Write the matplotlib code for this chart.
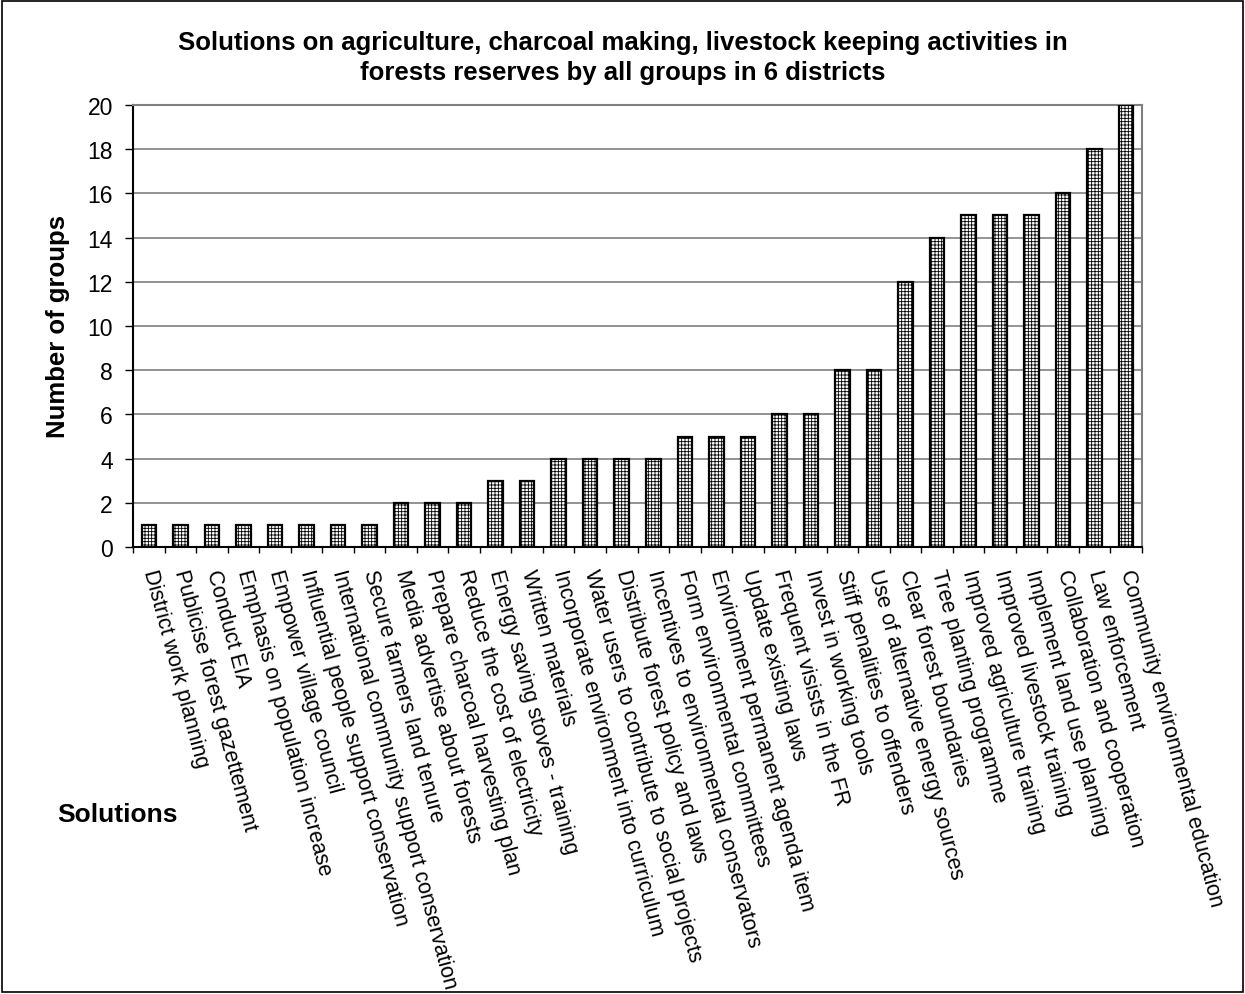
import matplotlib
matplotlib.use("Agg")
import matplotlib.pyplot as plt
from matplotlib.patches import Rectangle
import numpy as np

plt.rcParams['font.family'] = ['Liberation Sans', 'DejaVu Sans']
plt.rcParams['hatch.linewidth'] = 0.6

solutions = [
    "District work planning",
    "Publicise forest gazettement",
    "Conduct EIA",
    "Emphasis on population increase",
    "Empower village council",
    "Influential people support conservation",
    "International community support conservation",
    "Secure farmers land tenure",
    "Media advertise about forests",
    "Prepare charcoal harvesting plan",
    "Reduce the cost of electricity",
    "Energy saving stoves - training",
    "Written materials",
    "Incorporate environment into curriculum",
    "Water users to contribute to social projects",
    "Distribute forest policy and laws",
    "Incentives to environmental conservators",
    "Form environmental committees",
    "Environment permanent agenda item",
    "Update existing laws",
    "Frequent visists in the FR",
    "Invest in working tools",
    "Stiff penalities to offenders",
    "Use of alternative energy sources",
    "Clear forest boundaries",
    "Tree planting programme",
    "Improved agriculture training",
    "Improved livestock training",
    "Implement land use planning",
    "Collaboration and cooperation",
    "Law enforcement",
    "Community environmental education",
]
groups = [1, 1, 1, 1, 1, 1, 1, 1,
          2, 2, 2,
          3, 3,
          4, 4, 4, 4,
          5, 5, 5,
          6, 6,
          8, 8,
          12, 14, 15, 15, 15, 16, 18, 20]
y_ticks = [0, 2, 4, 6, 8, 10, 12, 14, 16, 18, 20]

W, H = 1245, 995
fig = plt.figure(figsize=(W / 100, H / 100), dpi=100)
fig.patches.append(Rectangle((2 / W, 2 / H), 1 - 4 / W, 1 - 4 / H,
                             transform=fig.transFigure, fill=False,
                             edgecolor='black', linewidth=1.2))

ax = fig.add_axes([133 / W, 1 - 548 / H, (1142 - 133) / W, (548 - 106) / H])
x = np.arange(len(solutions))
ax.bar(x, groups, width=0.46, color='white', edgecolor='black',
       linewidth=1.6, hatch='+++++', zorder=3)

ax.set_xlim(-0.5, len(solutions) - 0.5)
ax.set_ylim(0, 20)
ax.set_yticks(y_ticks)
ax.set_yticklabels([str(v) for v in y_ticks], fontsize=16.5)
ax.yaxis.grid(True, color='#808080', linewidth=1.2, zorder=0)
ax.set_axisbelow(True)

ax.set_xticks(x)
ax.set_xticklabels(solutions, rotation=-75, ha='left', va='center',
                   rotation_mode='anchor', fontsize=15.5)
ax.tick_params(axis='x', length=0, pad=16)
ax.set_xticks(np.arange(-0.5, len(solutions) + 0.5, 1), minor=True)
ax.tick_params(axis='x', which='minor', length=4.5, width=1, direction='out')
ax.tick_params(axis='y', length=5.5, width=1, direction='out', pad=9)

for side in ('top', 'right'):
    ax.spines[side].set_color('#808080')
    ax.spines[side].set_linewidth(1.5)
for side in ('left', 'bottom'):
    ax.spines[side].set_color('black')
    ax.spines[side].set_linewidth(1.5)

fig.text(58 / W, 1 - 326 / H, "Number of groups", fontsize=18.5,
         fontweight='bold', rotation=90, ha='center', va='center')
fig.text(117 / W, 1 - 815 / H, "Solutions", fontsize=19, fontweight='bold',
         ha='center', va='center')
fig.text(623 / W, 1 - 58 / H,
         "Solutions on agriculture, charcoal making, livestock keeping activities in\n"
         "forests reserves by all groups in 6 districts",
         fontsize=18.5, fontweight='bold', ha='center', va='center', linespacing=1.32)

fig.savefig("out.png", dpi=100)
